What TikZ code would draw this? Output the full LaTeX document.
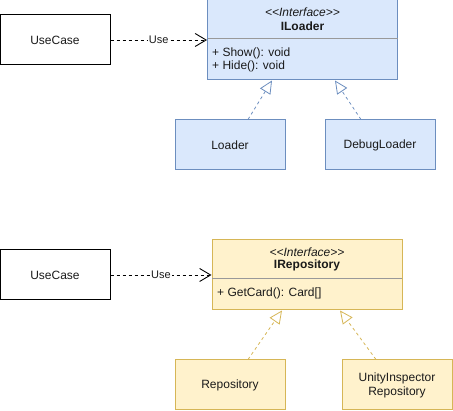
\documentclass[tikz,border=0pt]{standalone}
\usepackage{fontspec}
\setmainfont{Liberation Sans}
\usetikzlibrary{arrows.meta}
\definecolor{bfill}{HTML}{DAE8FC}
\definecolor{bdraw}{HTML}{6C8EBF}
\definecolor{yfill}{HTML}{FFF2CC}
\definecolor{ydraw}{HTML}{D6B656}
\definecolor{txt}{HTML}{1A1A1A}
\begin{document}
\begin{tikzpicture}[x=1pt,y=-1pt,
  every node/.style={text=txt,font=\fontsize{12}{14}\selectfont},
  plainbox/.style={draw=black,line width=1pt,minimum width=110pt,minimum height=50pt,inner sep=0pt,align=center},
  bluebox/.style={draw=bdraw,fill=bfill,line width=1pt,inner sep=0pt,align=center},
  yellowbox/.style={draw=ydraw,fill=yfill,line width=1pt,inner sep=0pt,align=center},
  sep/.style={draw=gray!80,line width=1pt},
  usearrow/.style={draw=black,line width=0.8pt,dash pattern=on 3pt off 3pt,-{Straight Barb[length=11pt,width=13pt,line width=0.9pt]}},
  uselabel/.style={fill=white,inner sep=1pt,font=\fontsize{11}{13}\selectfont},
  realize/.style={line width=0.8pt,dash pattern=on 3pt off 3pt,-{Triangle[open,length=13pt,width=12pt,line width=0.8pt,fill=white]}},
  stereo/.style={font=\itshape\fontsize{12}{14}\selectfont},
  iname/.style={font=\bfseries\fontsize{12}{14}\selectfont},
  member/.style={anchor=west,inner sep=0pt}
]
\useasboundingbox (0,0) rectangle (453,411);
% ---------- top ----------
\node[plainbox] (uc1) at (55,40) {UseCase};
\node[bluebox,minimum width=190pt,minimum height=80pt] (iloader) at (302.5,40) {};
\draw[sep] (207.5,39) -- (397.5,39);
\node[stereo] (st1) at (302.5,12) {{<}{<}Interface{>}{>}};
\node[iname] (n1) at (302.5,26.5) {ILoader};
\node[member] (m1) at (212,53) {+ Show(): void};
\node[member] (m2) at (212,66) {+ Hide(): void};
\node[bluebox,minimum width=110pt,minimum height=50pt] (loader) at (230,145) {Loader};
\node[bluebox,minimum width=110pt,minimum height=50pt] (debug) at (380,145) {DebugLoader};
\draw[usearrow] (uc1.east) -- node[uselabel] {Use} (iloader.west);
\draw[realize,draw=bdraw] ([xshift=18pt]loader.north) -- ([xshift=-30.5pt]iloader.south);
\draw[realize,draw=bdraw] ([xshift=-19pt]debug.north) -- ([xshift=32.5pt]iloader.south);
% ---------- bottom ----------
\node[plainbox] (uc2) at (55,275) {UseCase};
\node[yellowbox,minimum width=190pt,minimum height=70pt] (irepo) at (307,275) {};
\draw[sep] (212,279) -- (402,279);
\node[stereo] (st2) at (307,252) {{<}{<}Interface{>}{>}};
\node[iname] (n2) at (307,265.5) {IRepository};
\node[member] (m3) at (217,293) {+ GetCard(): Card[]};
\node[yellowbox,minimum width=110pt,minimum height=50pt] (repo) at (230,385) {Repository};
\node[yellowbox,minimum width=110pt,minimum height=50pt] (unity) at (397,385) {UnityInspector\\Repository};
\draw[usearrow] (uc2.east) -- node[uselabel] {Use} (irepo.west);
\draw[realize,draw=ydraw] ([xshift=18pt]repo.north) -- ([xshift=-25pt]irepo.south);
\draw[realize,draw=ydraw] ([xshift=-21pt]unity.north) -- ([xshift=33pt]irepo.south);
\end{tikzpicture}
\end{document}
